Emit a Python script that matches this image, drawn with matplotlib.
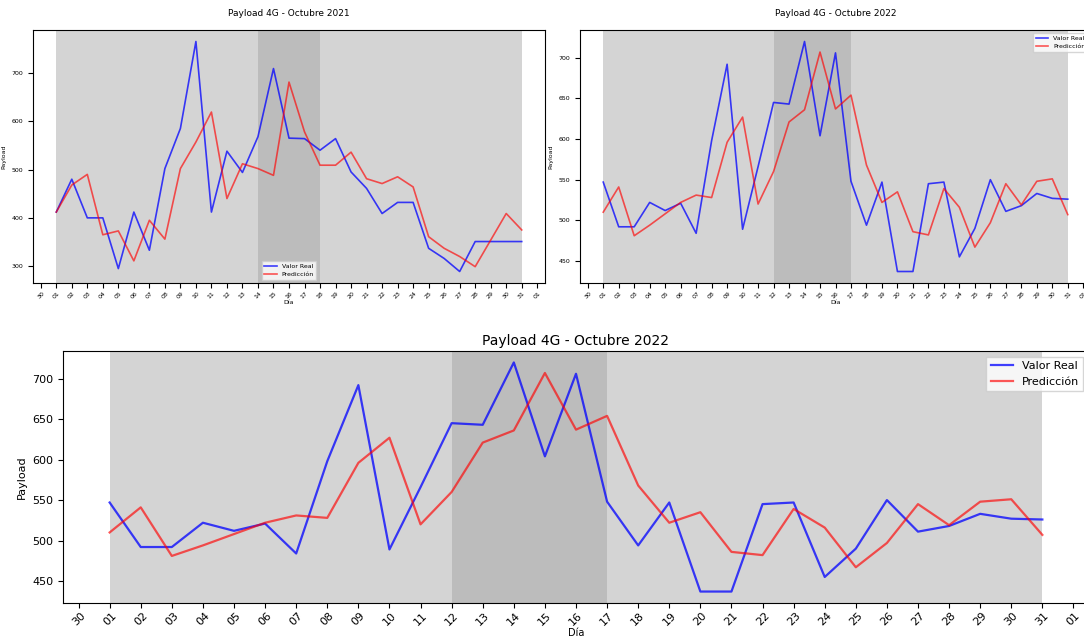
import matplotlib.pyplot as plt
import matplotlib.dates as mdates
import pandas as pd

# Payload diario (Octubre 2021)
dias_2021 = pd.date_range("2021-10-01", "2021-10-31")
real_2021 = [412, 480, 400, 400, 295, 412, 333, 502, 585, 765,
             412, 538, 494, 568, 709, 565, 564, 540, 564, 495,
             461, 409, 432, 432, 337, 316, 289, 351, 351, 351, 351]
pred_2021 = [412, 468, 490, 365, 373, 311, 395, 356, 502, 557,
             619, 440, 512, 502, 488, 681, 578, 509, 509, 536,
             481, 471, 485, 464, 361, 337, 320, 299, 354, 409, 375]

# Payload diario (Octubre 2022)
dias_2022 = pd.date_range("2022-10-01", "2022-10-31")
real_2022 = [547, 492, 492, 522, 512, 521, 484, 598, 692, 489,
             566, 645, 643, 720, 604, 706, 548, 494, 547, 437,
             437, 545, 547, 455, 490, 550, 511, 518, 533, 527, 526]
pred_2022 = [510, 541, 481, 494, 508, 522, 531, 528, 596, 627,
             520, 560, 621, 636, 707, 637, 654, 568, 522, 535,
             486, 482, 539, 516, 467, 497, 545, 519, 548, 551, 507]

# periodo resaltado
evento_2021 = ("2021-10-14", "2021-10-18")
evento_2022 = ("2022-10-12", "2022-10-17")


def graficar(ax, dias, real, pred, anio, evento, fs, lw, loc, pad):
    ax.axvspan(dias[0], dias[-1], color="#d4d4d4", lw=0)
    ax.axvspan(pd.Timestamp(evento[0]), pd.Timestamp(evento[1]), color="#bcbcbc", lw=0)
    ax.plot(dias, real, color="blue", alpha=0.75, lw=lw, label="Valor Real")
    ax.plot(dias, pred, color="red", alpha=0.65, lw=lw, label="Predicción")
    ax.xaxis.set_major_locator(mdates.DayLocator())
    ax.xaxis.set_major_formatter(mdates.DateFormatter("%d"))
    ax.tick_params(axis="x", labelrotation=45, labelsize=fs, pad=2)
    ax.tick_params(axis="y", labelsize=fs)
    ax.set_title(f"Payload 4G - Octubre {anio}", fontsize=fs + 2, pad=pad)
    ax.set_xlabel("Día", fontsize=fs, labelpad=0)
    ax.set_ylabel("Payload", fontsize=fs)
    ax.legend(loc=loc, fontsize=fs, fancybox=False)


fig = plt.figure(figsize=(10.84, 6.37), dpi=100)
W, H = 1084, 637
ax1 = fig.add_axes([33 / W, 1 - 283 / H, 512 / W, 253 / H])
ax2 = fig.add_axes([580 / W, 1 - 283 / H, 511 / W, 253 / H])
ax3 = fig.add_axes([63 / W, 1 - 603 / H, 1026 / W, 252 / H])

graficar(ax1, dias_2021, real_2021, pred_2021, 2021, evento_2021, 4.5, 1.2, "lower center", 10)
graficar(ax2, dias_2022, real_2022, pred_2022, 2022, evento_2022, 4.5, 1.2, "upper right", 10)
graficar(ax3, dias_2022, real_2022, pred_2022, 2022, evento_2022, 8, 1.6, "upper right", 4)
ax3.xaxis.label.set_fontsize(7)

fig.savefig("out.png", dpi=100)
